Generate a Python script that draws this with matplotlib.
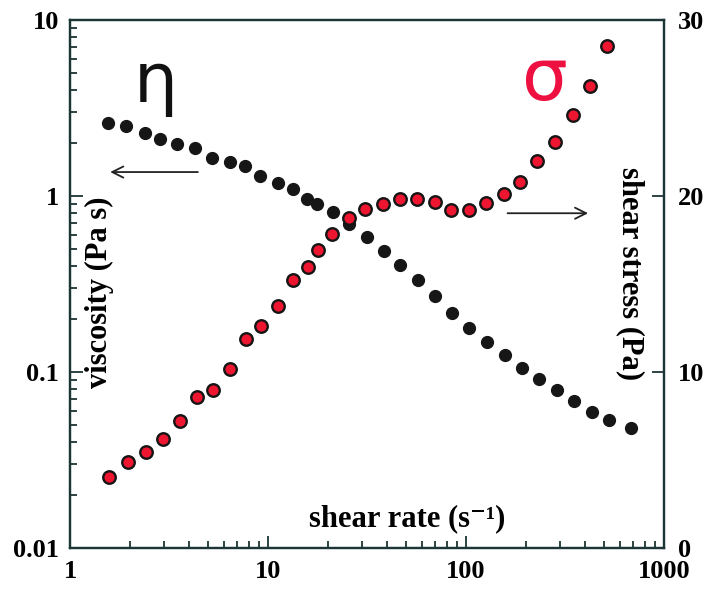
import matplotlib
matplotlib.use("Agg")
import matplotlib.pyplot as plt
from matplotlib.ticker import LogLocator, FixedLocator, NullFormatter

plt.rcParams['font.family'] = ['Liberation Serif', 'DejaVu Serif']

# viscosity data (black dots)
rate_eta = [1.55, 1.92, 2.38, 2.86, 3.47, 4.30, 5.23, 6.40, 7.62, 9.11, 11.2, 13.3,
            15.8, 17.6, 21.2, 25.7, 31.5, 38.4, 46.5, 57.0, 69.4, 84.8, 104, 128,
            158, 192, 234, 287, 351, 432, 528, 684]
viscosity = [2.61, 2.51, 2.27, 2.10, 1.97, 1.88, 1.65, 1.55, 1.48, 1.30, 1.18, 1.09,
             0.957, 0.906, 0.807, 0.695, 0.585, 0.489, 0.408, 0.331, 0.270, 0.216, 0.177, 0.149,
             0.125, 0.106, 0.0912, 0.079, 0.0687, 0.0595, 0.0534, 0.0478]

# shear stress data (red dots)
rate_sig = [1.58, 1.96, 2.42, 2.95, 3.58, 4.38, 5.28, 6.41, 7.77, 9.26, 11.2, 13.4,
            16.0, 17.8, 21.0, 25.6, 31.0, 38.2, 46.5, 56.5, 69.4, 84.1, 104, 126,
            156, 187, 228, 280, 349, 424, 517]
stress = [4.02, 4.87, 5.44, 6.19, 7.22, 8.56, 8.98, 10.17, 11.88, 12.61, 13.75, 15.23,
          15.98, 16.95, 17.86, 18.75, 19.28, 19.52, 19.85, 19.83, 19.68, 19.20, 19.20, 19.62,
          20.11, 20.78, 21.99, 23.05, 24.60, 26.27, 28.54]

left_ticks = [0.01, 0.1, 1, 10]
left_labels = ['0.01', '0.1', '1', '10']
right_ticks = [0, 10, 20, 30]
x_ticks = [1, 10, 100, 1000]

axis_col = '#1c3535'

fig = plt.figure(figsize=(7.05, 5.93), dpi=100)
ax = fig.add_axes([0.0993, 0.0759, 0.8425, 0.8904])
ax.set_xscale('log')
ax.set_yscale('log')
ax.set_xlim(1, 1000)
ax.set_ylim(0.01, 10)

ax.plot(rate_eta, viscosity, 'o', color='#161616', ms=8.5, mec='#161616', zorder=3)

ax2 = ax.twinx()
ax2.set_ylim(0, 30)
ax2.plot(rate_sig, stress, 'o', color='#ee1530', ms=9, mec='#151515', mew=1.7, zorder=4)

for a in (ax, ax2):
    for s in a.spines.values():
        s.set_color(axis_col)
        s.set_linewidth(1.6)

ax.set_xticks(x_ticks)
ax.set_xticklabels([str(t) for t in x_ticks])
ax.set_yticks(left_ticks)
ax.set_yticklabels(left_labels)
ax.xaxis.set_minor_locator(LogLocator(base=10, subs=range(2, 10)))
ax.yaxis.set_minor_locator(LogLocator(base=10, subs=range(2, 10)))
ax.xaxis.set_minor_formatter(NullFormatter())
ax.yaxis.set_minor_formatter(NullFormatter())
ax.tick_params(which='both', direction='in', color=axis_col, width=1.3,
               labelsize=19, pad=8)
ax.tick_params(which='major', length=9)
ax.tick_params(which='minor', length=5)
ax.tick_params(axis='x', pad=9)
for lab in ax.get_xticklabels() + ax.get_yticklabels():
    lab.set_fontweight('bold')

ax2.yaxis.set_major_locator(FixedLocator(right_ticks))
ax2.set_yticklabels([str(t) for t in right_ticks])
ax2.tick_params(direction='in', length=9, width=1.3, color=axis_col, labelsize=19, pad=10)
for lab in ax2.get_yticklabels():
    lab.set_fontweight('bold')

ax.text(0.05, 0.485, 'viscosity (Pa s)', transform=ax.transAxes, rotation=90,
        ha='center', va='center', fontsize=22, fontweight='bold')
ax2.text(0.943, 0.52, 'shear stress (Pa)', transform=ax2.transAxes, rotation=-90,
         ha='center', va='center', fontsize=22, fontweight='bold')
ax.text(0.567, 0.055, 'shear rate (s\u207b\u00b9)', transform=ax.transAxes,
        ha='center', va='center', fontsize=22, fontweight='bold')

ax.annotate('', xy=(0.063, 0.712), xytext=(0.22, 0.712), xycoords='axes fraction',
            arrowprops=dict(arrowstyle='->', color='#222222', lw=1.3, mutation_scale=20))
ax.annotate('', xy=(0.877, 0.634), xytext=(0.732, 0.634), xycoords='axes fraction',
            arrowprops=dict(arrowstyle='->', color='#222222', lw=1.3, mutation_scale=20))

ax.text(0.145, 0.88, '\u03b7', transform=ax.transAxes, ha='center', va='center',
        fontsize=50, color='#111111', family='DejaVu Sans')
ax.text(0.8, 0.885, '\u03c3', transform=ax.transAxes, ha='center', va='center',
        fontsize=52, color='#ee1040', family='DejaVu Sans')

fig.savefig('out.png', dpi=100)
